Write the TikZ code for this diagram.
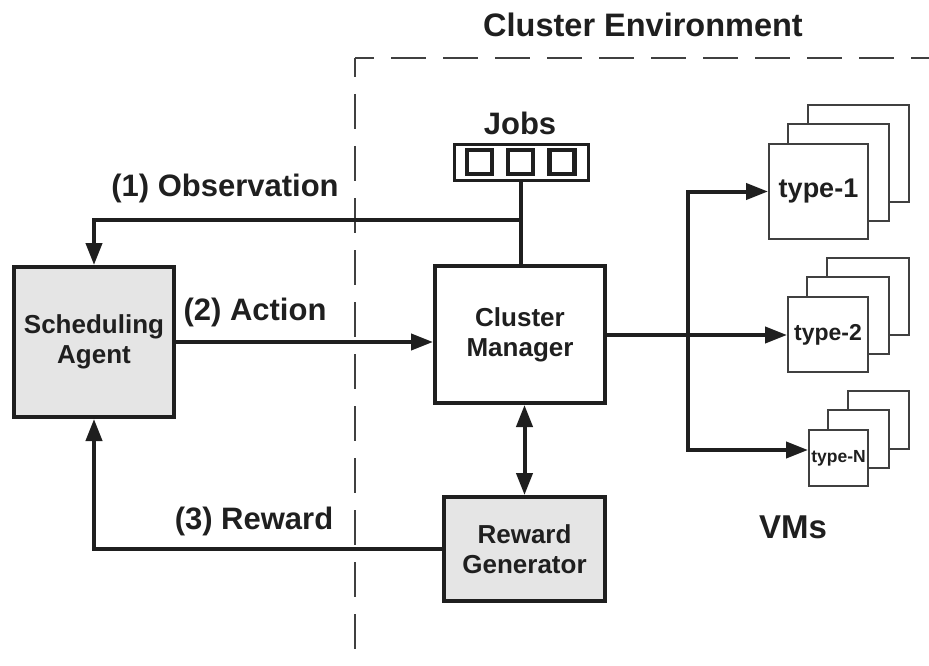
\documentclass[tikz,border=0pt]{standalone}
\usepackage{fontspec}
\setmainfont{Liberation Sans}
\usetikzlibrary{arrows.meta}
\tikzset{
  txt/.style={text=black!88, font=\bfseries},
  block/.style={draw=black!88, line width=4pt, inner sep=0pt, align=center, txt},
  conn/.style={draw=black!88, line width=4pt},
  arr/.style={conn, -{Triangle[length=22pt,width=16pt]}},
  dbl/.style={conn, {Triangle[length=22pt,width=16pt]}-{Triangle[length=22pt,width=16pt]}},
  vmbox/.style={draw=black!75, line width=1.6pt, fill=white, inner sep=0pt, txt},
  border/.style={draw=black!75, line width=2pt, dash pattern=on 35pt off 17pt, dash phase=16pt}
}
\newcommand{\fsz}[1]{\fontsize{#1}{#1}\selectfont}
\begin{document}
\begin{tikzpicture}[x=1pt, y=-1pt]
        \useasboundingbox (0,0) rectangle (929,666);
        % environment border
        \draw[border] (355,58) -- (929,58);
        \draw[border] (355,58) -- (355,666);
        \node[txt, font=\bfseries\fsz{32.5}] (envtitle) at (643,25) {Cluster Environment};

        % main blocks
        \node[block, fill=black!10, minimum width=160, minimum height=150, font=\bfseries\fontsize{26}{30}\selectfont]
            (agent) at (94,342) {Scheduling\\Agent};
        \node[block, fill=white, minimum width=170, minimum height=137, font=\bfseries\fontsize{26}{30}\selectfont]
            (manager) at (520,334.5) {Cluster\\Manager};
        \node[block, fill=black!10, minimum width=161, minimum height=104, font=\bfseries\fontsize{26}{30}\selectfont]
            (reward) at (524.5,549) {Reward\\Generator};

        % job queue
        \node[draw=black!88, line width=3pt, minimum width=134, minimum height=36, inner sep=0pt] (queue) at (521,162.5) {};
        \foreach \i/\x in {1/479.5, 2/520.5, 3/562} {
            \node[draw=black!88, line width=4.5pt, minimum width=25, minimum height=24, inner sep=0pt] (slot\i) at (\x,162) {};
        }
        \node[txt, font=\bfseries\fsz{31}] (jobs) at (520,123) {Jobs};

        % VM pools
        \foreach \n/\cx/\cy/\w/\h/\fs/\lbl in {1/818.5/191.5/101/97/27/type-1, 2/828/334.5/82/77/23/type-2, N/838.5/458/61/58/17.5/type-N} {
            \foreach \k in {2,1}
                \draw[vmbox] (\cx-\w/2+20*\k, \cy-\h/2-19*\k) rectangle ++(\w,\h);
            \node[vmbox, minimum width=\w-1.6, minimum height=\h-1.6, font=\bfseries\fsz{\fs}] (vm\n) at (\cx,\cy) {\lbl};
        }
        \node[txt, font=\bfseries\fsz{33}] (vms) at (793,527) {VMs};

        % (1) observation
        \coordinate (obs) at (521,220);
        \draw[conn] (queue.south) -- (queue.south |- manager.north);
        \draw[arr] (obs) -| (agent.north);
        \node[txt, font=\bfseries\fsz{31}] (obslbl) at (225,188) {(1) Observation};

        % (2) action
        \draw[arr] (agent.east) -- (agent.east -| manager.west);
        \node[txt, font=\bfseries\fsz{31}] (actlbl) at (255,312) {(2) Action};

        % (3) reward
        \draw[arr] (reward.west) -| (agent.south);
        \node[txt, font=\bfseries\fsz{31}] (rwdlbl) at (254,521) {(3) Reward};
        \draw[dbl] (reward.north |- manager.south) -- (reward.north);

        % dispatch to VMs
        \coordinate (split) at (688,335);
        \draw[arr] (manager.east |- split) -- (vm2.west |- split);
        \draw[arr] (split) |- (vm1.west);
        \draw[arr] (split) |- ([yshift=8pt]vmN.west);
\end{tikzpicture}
\end{document}
